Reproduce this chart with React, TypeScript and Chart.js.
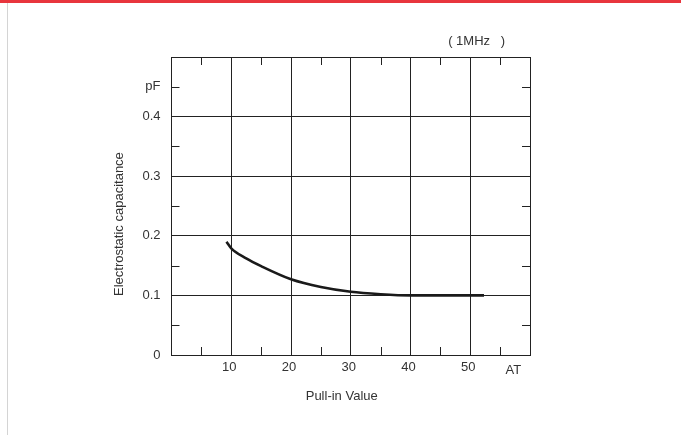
import React, { useEffect, useRef } from "react";
import { Chart, registerables } from "chart.js";

Chart.register(...registerables);

// Pull-in value (AT) vs electrostatic capacitance (pF)
const PULL_IN_AT = [9.2, 10, 12.5, 15, 20, 25, 30, 35, 40, 45, 52.3];
const CAPACITANCE_PF = [0.19, 0.179, 0.162, 0.149, 0.127, 0.114, 0.106, 0.102, 0.1, 0.1, 0.1];

const X_LABELED_TICKS = [10, 20, 30, 40, 50];
const Y_LABELED_TICKS = [0, 0.1, 0.2, 0.3, 0.4];
const Y_UNIT_TICK = 0.45;
const Y_UNIT_LABEL = "pF";
const X_UNIT_LABEL = "AT";
const X_UNIT_POS = 57.2;
const FREQ_LABEL = "( 1MHz   )";
const FREQ_POS = 46.3;
const X_TITLE = "Pull-in Value";
const Y_TITLE = "Electrostatic capacitance";

const FONT_FAMILY = "'Liberation Sans', Arial, sans-serif";
const TEXT_COLOR = "#333";
const LINE_COLOR = "#222";

const near = (a: number, b: number) => Math.abs(a - b) < 1e-6;
const isMajorX = (v: number) => near(v % 10, 0) || near(v % 10, 10);
const isMajorY = (v: number) => Math.abs(Math.round(v * 10) - v * 10) < 1e-6;

const decorPlugin = {
  id: "decor",
  afterDatasetsDraw(chart: any) {
    const { ctx, chartArea, scales } = chart;
    const xs = scales.x;
    const ys = scales.y;
    const len = 8;
    ctx.save();
    ctx.strokeStyle = LINE_COLOR;
    ctx.lineWidth = 1;
    ctx.beginPath();
    xs.ticks.forEach((t: any) => {
      if (isMajorX(t.value)) return;
      const px = Math.round(xs.getPixelForValue(t.value)) + 0.5;
      ctx.moveTo(px, chartArea.bottom);
      ctx.lineTo(px, chartArea.bottom - len);
      ctx.moveTo(px, chartArea.top);
      ctx.lineTo(px, chartArea.top + len);
    });
    ys.ticks.forEach((t: any) => {
      if (isMajorY(t.value)) return;
      const py = Math.round(ys.getPixelForValue(t.value)) + 0.5;
      ctx.moveTo(chartArea.left, py);
      ctx.lineTo(chartArea.left + len, py);
      ctx.moveTo(chartArea.right, py);
      ctx.lineTo(chartArea.right - len, py);
    });
    ctx.stroke();
    ctx.restore();
  },
  afterDraw(chart: any) {
    const { ctx, chartArea, scales } = chart;
    ctx.save();
    ctx.fillStyle = TEXT_COLOR;
    ctx.font = `13px ${FONT_FAMILY}`;
    ctx.textBaseline = "alphabetic";
    ctx.textAlign = "center";
    ctx.fillText(X_UNIT_LABEL, scales.x.getPixelForValue(X_UNIT_POS), chartArea.bottom + 19.3);
    ctx.textAlign = "left";
    ctx.fillText(FREQ_LABEL, scales.x.getPixelForValue(FREQ_POS), chartArea.top - 12.3);
    ctx.restore();
  },
};

export default function App() {
  const ref = useRef<HTMLCanvasElement | null>(null);

  useEffect(() => {
    if (!ref.current) return;
    const font = { family: FONT_FAMILY, size: 13 };
    const chart = new Chart(ref.current, {
      type: "line",
      data: {
        datasets: [
          {
            data: PULL_IN_AT.map((x, i) => ({ x, y: CAPACITANCE_PF[i] })),
            borderColor: "#1a1a1a",
            borderWidth: 2.6,
            pointRadius: 0,
            fill: false,
            cubicInterpolationMode: "monotone",
          },
        ],
      },
      options: {
        responsive: false,
        animation: false,
        layout: { padding: { left: 108, right: 151, top: 57, bottom: 27 } },
        plugins: { legend: { display: false }, tooltip: { enabled: false } },
        scales: {
          x: {
            type: "linear",
            min: 0,
            max: 60,
            afterFit: (s: any) => {
              s.height = 53;
            },
            ticks: {
              stepSize: 5,
              autoSkip: false,
              maxRotation: 0,
              padding: 5,
              labelOffset: -2,
              font,
              color: TEXT_COLOR,
              callback: (v: any) => (X_LABELED_TICKS.some((t) => near(t, Number(v))) ? String(v) : ""),
            },
            grid: {
              drawTicks: false,
              lineWidth: 1,
              color: (c: any) => (c.tick && isMajorX(c.tick.value) ? LINE_COLOR : "rgba(0,0,0,0)"),
            },
            border: { color: LINE_COLOR, width: 1 },
            title: {
              display: true,
              text: X_TITLE + "     ",
              font,
              color: TEXT_COLOR,
              padding: { top: 4, bottom: 4 },
            },
          },
          y: {
            type: "linear",
            min: 0,
            max: 0.5,
            afterFit: (s: any) => {
              s.width = 63.5;
            },
            ticks: {
              stepSize: 0.05,
              autoSkip: false,
              padding: 11,
              font,
              color: TEXT_COLOR,
              callback: (v: any) => {
                const n = Number(v);
                if (near(n, Y_UNIT_TICK)) return Y_UNIT_LABEL;
                const hit = Y_LABELED_TICKS.find((t) => near(t, n));
                return hit !== undefined ? String(hit) : "";
              },
            },
            grid: {
              drawTicks: false,
              lineWidth: 1,
              color: (c: any) => (c.tick && isMajorY(c.tick.value) ? LINE_COLOR : "rgba(0,0,0,0)"),
            },
            border: { color: LINE_COLOR, width: 1 },
            title: {
              display: true,
              text: Y_TITLE + "          ",
              font,
              color: TEXT_COLOR,
              padding: { top: 4, bottom: 4 },
            },
          },
        },
      },
      plugins: [decorPlugin],
    } as any);
    return () => chart.destroy();
  }, []);

  return (
    <div
      style={{
        position: "absolute",
        left: 0,
        top: 0,
        width: 681,
        height: 435,
        background: "#fff",
        overflow: "hidden",
      }}
    >
      <div style={{ position: "absolute", left: 0, top: 0, width: 681, height: 3, background: "#e8353d" }} />
      <div style={{ position: "absolute", left: 7, top: 3, width: 1, height: 432, background: "#d4d4d4" }} />
      <canvas ref={ref} width={681} height={435} style={{ position: "absolute", left: 0, top: 0 }} />
    </div>
  );
}
